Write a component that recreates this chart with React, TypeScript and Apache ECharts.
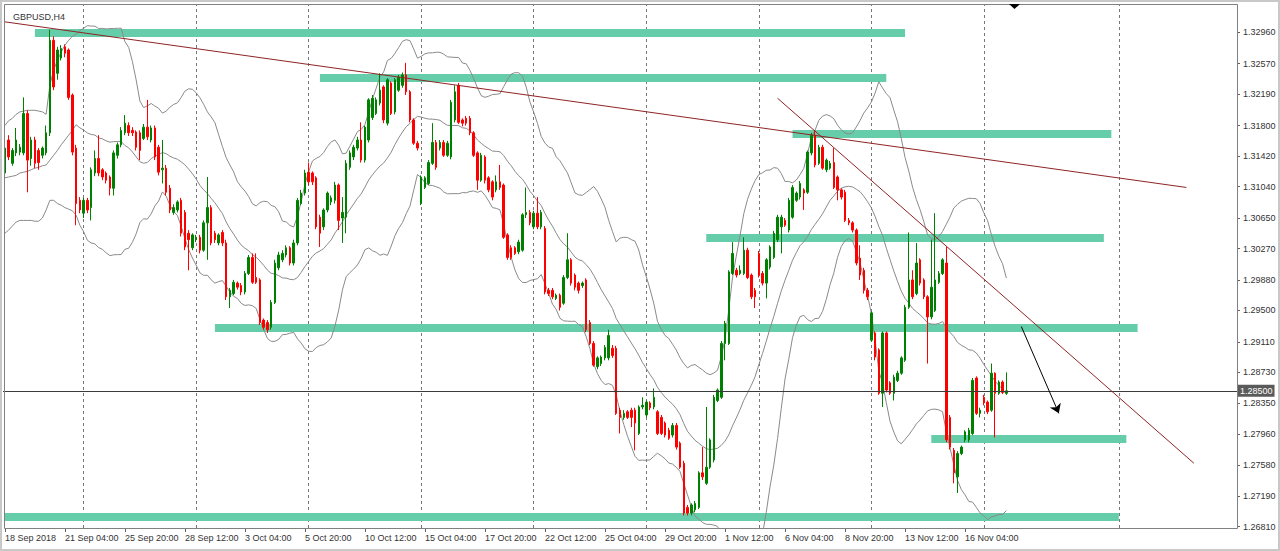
import React, { useEffect, useRef } from "react";
import * as echarts from "echarts";

// ---------- DATA ----------
const chartTitle = "GBPUSD,H4";

// Bottom axis labels, one every 16 bars (H4 bars)
const timeLabels = [
  "18 Sep 2018", "21 Sep 04:00", "25 Sep 20:00", "28 Sep 12:00", "3 Oct 04:00",
  "5 Oct 20:00", "10 Oct 12:00", "15 Oct 04:00", "17 Oct 20:00", "22 Oct 12:00",
  "25 Oct 04:00", "29 Oct 20:00", "1 Nov 12:00", "6 Nov 04:00", "8 Nov 20:00",
  "13 Nov 12:00", "16 Nov 04:00",
];
const LABEL_STEP = 16;

// Right axis price labels
const priceTicks = [
  1.2681, 1.2719, 1.2758, 1.2796, 1.2835, 1.2873, 1.2911, 1.295, 1.2988,
  1.3027, 1.3065, 1.3104, 1.3142, 1.318, 1.3219, 1.3257, 1.3296,
];

const currentPrice = 1.285;
const priceMin = 1.26794;
const priceMax = 1.33312;
const totalSlots = 329; // bars + right-side chart shift space

// [open, close, low, high]
const ohlc: number[][] = [
  [1.3121,1.3152,1.3117,1.3156],[1.3162,1.3141,1.3137,1.3168],[1.3133,1.3149,1.3130,1.3152],[1.3146,1.3162,1.3142,1.3177],
  [1.3147,1.3153,1.3143,1.3157],[1.3146,1.3195,1.3143,1.3215],[1.3195,1.3137,1.3097,1.3199],[1.3139,1.3162,1.3130,1.3166],
  [1.3162,1.3133,1.3127,1.3166],[1.3149,1.3134,1.3125,1.3152],[1.3143,1.3152,1.3139,1.3154],[1.3146,1.3171,1.3143,1.3180],
  [1.3171,1.3286,1.3167,1.3299],[1.3286,1.3228,1.3224,1.3291],[1.3245,1.3274,1.3237,1.3278],[1.3264,1.3276,1.3261,1.3280],
  [1.3278,1.3270,1.3265,1.3281],[1.3274,1.3215,1.3212,1.3276],[1.3218,1.3147,1.3143,1.3220],[1.3152,1.3083,1.3056,1.3156],
  [1.3087,1.3075,1.3071,1.3091],[1.3071,1.3087,1.3065,1.3090],[1.3087,1.3075,1.3071,1.3090],[1.3078,1.3125,1.3062,1.3128],
  [1.3121,1.3139,1.3117,1.3149],[1.3139,1.3121,1.3117,1.3168],[1.3125,1.3116,1.3112,1.3127],[1.3121,1.3112,1.3108,1.3123],
  [1.3116,1.3102,1.3093,1.3118],[1.3102,1.3146,1.3093,1.3149],[1.3143,1.3156,1.3139,1.3159],[1.3156,1.3174,1.3153,1.3178],
  [1.3171,1.3183,1.3168,1.3193],[1.3180,1.3171,1.3167,1.3184],[1.3174,1.3171,1.3167,1.3178],[1.3172,1.3153,1.3149,1.3174],
  [1.3171,1.3149,1.3137,1.3174],[1.3164,1.3178,1.3162,1.3182],[1.3178,1.3166,1.3162,1.3212],[1.3162,1.3177,1.3159,1.3180],
  [1.3177,1.3141,1.3137,1.3180],[1.3153,1.3122,1.3118,1.3156],[1.3125,1.3127,1.3108,1.3162],[1.3127,1.3097,1.3093,1.3131],
  [1.3102,1.3075,1.3071,1.3106],[1.3072,1.3078,1.3069,1.3082],[1.3075,1.3085,1.3072,1.3087],[1.3087,1.3046,1.3042,1.3090],
  [1.3072,1.3029,1.3025,1.3075],[1.3046,1.3038,1.3000,1.3050],[1.3028,1.3044,1.3025,1.3046],[1.3038,1.3041,1.3035,1.3044],
  [1.3041,1.3025,1.3021,1.3044],[1.3025,1.3059,1.3023,1.3062],[1.3059,1.3078,1.3013,1.3116],[1.3078,1.3034,1.3031,1.3081],
  [1.3046,1.3038,1.3034,1.3049],[1.3034,1.3044,1.3031,1.3046],[1.3047,1.3034,1.3030,1.3050],[1.3034,1.2967,1.2963,1.3038],
  [1.2967,1.2975,1.2953,1.2978],[1.2971,1.2985,1.2969,1.2988],[1.2984,1.2979,1.2976,1.2986],[1.2981,1.2973,1.2969,1.2984],
  [1.2973,1.2996,1.2970,1.2999],[1.2996,1.3016,1.2994,1.3019],[1.3016,1.2985,1.2983,1.3021],[1.2991,1.2985,1.2983,1.3021],
  [1.2988,1.2935,1.2932,1.2990],[1.2938,1.2929,1.2926,1.2940],[1.2935,1.2926,1.2922,1.2938],[1.2929,1.2960,1.2926,1.2963],
  [1.2960,1.3009,1.2958,1.3013],[1.3003,1.3019,1.3000,1.3023],[1.3013,1.3021,1.3010,1.3025],[1.3019,1.3028,1.3016,1.3031],
  [1.3028,1.3009,1.3006,1.3030],[1.3009,1.3034,1.3006,1.3038],[1.3034,1.3087,1.3031,1.3090],[1.3083,1.3096,1.3081,1.3100],
  [1.3096,1.3121,1.3093,1.3125],[1.3122,1.3110,1.3106,1.3134],[1.3121,1.3110,1.3106,1.3123],[1.3115,1.3054,1.3051,1.3117],
  [1.3066,1.3046,1.3029,1.3069],[1.3054,1.3075,1.3050,1.3077],[1.3075,1.3096,1.3072,1.3098],[1.3085,1.3090,1.3081,1.3093],
  [1.3087,1.3106,1.3083,1.3110],[1.3106,1.3062,1.3050,1.3108],[1.3065,1.3072,1.3034,1.3091],[1.3066,1.3133,1.3046,1.3137],
  [1.3128,1.3146,1.3125,1.3149],[1.3141,1.3153,1.3137,1.3156],[1.3152,1.3162,1.3149,1.3166],[1.3162,1.3137,1.3134,1.3184],
  [1.3137,1.3178,1.3134,1.3180],[1.3162,1.3212,1.3159,1.3214],[1.3190,1.3214,1.3187,1.3218],[1.3195,1.3212,1.3193,1.3215],
  [1.3208,1.3224,1.3205,1.3245],[1.3228,1.3187,1.3183,1.3230],[1.3183,1.3237,1.3180,1.3239],[1.3233,1.3195,1.3193,1.3235],
  [1.3197,1.3237,1.3194,1.3239],[1.3224,1.3240,1.3222,1.3243],[1.3230,1.3243,1.3227,1.3246],[1.3243,1.3222,1.3218,1.3258],
  [1.3222,1.3187,1.3184,1.3224],[1.3187,1.3158,1.3156,1.3189],[1.3158,1.3152,1.3149,1.3161],[1.3083,1.3116,1.3081,1.3118],
  [1.3103,1.3115,1.3101,1.3117],[1.3108,1.3134,1.3106,1.3137],[1.3133,1.3159,1.3131,1.3183],[1.3159,1.3128,1.3125,1.3162],
  [1.3152,1.3159,1.3149,1.3162],[1.3159,1.3143,1.3141,1.3162],[1.3143,1.3158,1.3141,1.3161],[1.3141,1.3209,1.3138,1.3212],
  [1.3187,1.3222,1.3184,1.3230],[1.3230,1.3184,1.3182,1.3233],[1.3187,1.3183,1.3179,1.3189],[1.3189,1.3183,1.3180,1.3192],
  [1.3189,1.3171,1.3168,1.3192],[1.3171,1.3143,1.3141,1.3173],[1.3146,1.3112,1.3100,1.3148],[1.3112,1.3143,1.3110,1.3146],
  [1.3141,1.3112,1.3108,1.3143],[1.3115,1.3100,1.3097,1.3117],[1.3110,1.3091,1.3087,1.3112],[1.3100,1.3110,1.3097,1.3118],
  [1.3110,1.3103,1.3100,1.3131],[1.3106,1.3041,1.3039,1.3108],[1.3044,1.3016,1.3013,1.3046],[1.3028,1.3016,1.3013,1.3031],
  [1.3028,1.3021,1.3019,1.3030],[1.3023,1.3035,1.3020,1.3038],[1.3025,1.3069,1.3023,1.3071],[1.3069,1.3072,1.3065,1.3103],
  [1.3072,1.3059,1.3056,1.3075],[1.3054,1.3071,1.3051,1.3074],[1.3071,1.3054,1.3051,1.3091],[1.3054,1.3072,1.3051,1.3075],
  [1.3052,1.2973,1.2970,1.3055],[1.2975,1.2971,1.2968,1.2978],[1.2975,1.2967,1.2964,1.2978],[1.2965,1.2969,1.2963,1.2971],
  [1.2969,1.2954,1.2950,1.2971],[1.2959,1.2991,1.2957,1.2994],[1.2991,1.3013,1.2989,1.3046],[1.3013,1.2984,1.2981,1.3015],
  [1.2994,1.2979,1.2975,1.2996],[1.2984,1.2975,1.2971,1.2986],[1.2981,1.2984,1.2978,1.2986],[1.2988,1.2926,1.2923,1.2990],
  [1.2935,1.2909,1.2907,1.2938],[1.2909,1.2882,1.2880,1.2912],[1.2880,1.2891,1.2877,1.2893],[1.2884,1.2892,1.2881,1.2894],
  [1.2891,1.2904,1.2888,1.2907],[1.2891,1.2919,1.2888,1.2926],[1.2903,1.2894,1.2891,1.2907],[1.2903,1.2822,1.2820,1.2906],
  [1.2826,1.2817,1.2797,1.2829],[1.2817,1.2822,1.2814,1.2826],[1.2824,1.2817,1.2815,1.2826],[1.2826,1.2817,1.2805,1.2829],
  [1.2826,1.2810,1.2776,1.2829],[1.2797,1.2830,1.2795,1.2832],[1.2830,1.2832,1.2827,1.2842],[1.2820,1.2836,1.2817,1.2838],
  [1.2835,1.2829,1.2826,1.2837],[1.2830,1.2842,1.2827,1.2853],[1.2824,1.2797,1.2795,1.2826],[1.2817,1.2797,1.2795,1.2820],
  [1.2810,1.2795,1.2792,1.2812],[1.2801,1.2791,1.2789,1.2804],[1.2795,1.2807,1.2792,1.2810],[1.2807,1.2780,1.2777,1.2810],
  [1.2785,1.2755,1.2753,1.2787],[1.2760,1.2698,1.2695,1.2763],[1.2705,1.2698,1.2695,1.2708],[1.2698,1.2708,1.2695,1.2710],
  [1.2702,1.2710,1.2699,1.2713],[1.2705,1.2748,1.2703,1.2750],[1.2748,1.2743,1.2739,1.2780],[1.2735,1.2755,1.2733,1.2830],
  [1.2755,1.2789,1.2753,1.2791],[1.2764,1.2842,1.2761,1.2845],[1.2838,1.2851,1.2836,1.2853],[1.2842,1.2909,1.2840,1.2912],
  [1.2909,1.2934,1.2888,1.2937],[1.2909,1.2998,1.2907,1.3000],[1.2996,1.3021,1.2994,1.3035],[1.3000,1.2994,1.2991,1.3003],
  [1.2996,1.3000,1.2994,1.3006],[1.2996,1.3025,1.2994,1.3041],[1.3025,1.2991,1.2989,1.3028],[1.2994,1.2967,1.2964,1.2996],
  [1.2975,1.2967,1.2953,1.2978],[1.3021,1.2994,1.2991,1.3024],[1.2996,1.2984,1.2981,1.2999],[1.2984,1.3013,1.2965,1.3015],
  [1.3004,1.3029,1.3001,1.3031],[1.3016,1.3046,1.3014,1.3049],[1.3038,1.3066,1.3035,1.3069],[1.3054,1.3066,1.3021,1.3069],
  [1.3062,1.3056,1.3054,1.3065],[1.3050,1.3087,1.3047,1.3090],[1.3066,1.3103,1.3064,1.3106],[1.3087,1.3096,1.3085,1.3098],
  [1.3091,1.3108,1.3088,1.3111],[1.3100,1.3096,1.3075,1.3102],[1.3097,1.3147,1.3095,1.3149],[1.3146,1.3168,1.3143,1.3171],
  [1.3168,1.3131,1.3128,1.3174],[1.3133,1.3153,1.3131,1.3156],[1.3153,1.3127,1.3125,1.3156],[1.3125,1.3137,1.3122,1.3139],
  [1.3127,1.3133,1.3125,1.3136],[1.3134,1.3103,1.3101,1.3152],[1.3116,1.3100,1.3087,1.3118],[1.3100,1.3091,1.3088,1.3102],
  [1.3097,1.3062,1.3060,1.3100],[1.3062,1.3059,1.3056,1.3065],[1.3059,1.3050,1.3047,1.3061],[1.3050,1.3009,1.3006,1.3052],
  [1.3015,1.2994,1.2988,1.3031],[1.3000,1.2975,1.2971,1.3003],[1.2975,1.2967,1.2963,1.2978],[1.2913,1.2947,1.2911,1.2949],
  [1.2922,1.2892,1.2888,1.2924],[1.2901,1.2847,1.2845,1.2903],[1.2847,1.2922,1.2830,1.2924],[1.2922,1.2851,1.2848,1.2924],
  [1.2860,1.2847,1.2845,1.2862],[1.2847,1.2867,1.2838,1.2870],[1.2863,1.2872,1.2861,1.2875],[1.2872,1.2891,1.2870,1.2893],
  [1.2888,1.2954,1.2886,1.2957],[1.2954,1.2988,1.2952,1.3047],[1.2988,1.2967,1.2964,1.3000],[1.2971,1.3009,1.2969,1.3034],
  [1.3013,1.2984,1.2981,1.3015],[1.2988,1.2967,1.2964,1.2990],[1.2967,1.2942,1.2884,1.2969],[1.2942,1.2979,1.2939,1.3038],
  [1.2950,1.2988,1.2948,1.3071],[1.2985,1.2996,1.2983,1.2999],[1.2996,1.3013,1.2994,1.3015],[1.3009,1.2789,1.2786,1.3029],
  [1.2817,1.2780,1.2777,1.2820],[1.2776,1.2748,1.2735,1.2779],[1.2743,1.2772,1.2723,1.2775],[1.2772,1.2780,1.2770,1.2782],
  [1.2789,1.2799,1.2786,1.2801],[1.2789,1.2801,1.2786,1.2804],[1.2797,1.2863,1.2795,1.2866],[1.2866,1.2822,1.2820,1.2868],
  [1.2822,1.2826,1.2817,1.2829],[1.2842,1.2835,1.2832,1.2845],[1.2836,1.2824,1.2821,1.2838],[1.2826,1.2872,1.2824,1.2884],
  [1.2872,1.2847,1.2792,1.2873],[1.2847,1.2861,1.2845,1.2863],[1.2861,1.2848,1.2846,1.2863],[1.2847,1.2850,1.2845,1.2873],
];

// Bollinger band values on the first 19 bars (window reaches before the visible data)
const bbHeadUpper = [1.318,1.3186,1.3189,1.3194,1.3197,1.3198,1.3199,1.3199,1.3199,1.3198,1.3197,1.3194,1.323,1.3249,1.3261,1.3271,1.328,1.3286,1.3291];
const bbHeadMid = [1.3115,1.3116,1.3117,1.3118,1.3121,1.3122,1.3123,1.3125,1.3127,1.3128,1.313,1.3131,1.3137,1.3143,1.3149,1.3156,1.3162,1.3168,1.3174];
const bbHeadLower = [1.3046,1.305,1.3055,1.306,1.3062,1.3062,1.3062,1.3062,1.3061,1.3061,1.3065,1.3075,1.3087,1.3087,1.3083,1.3081,1.3078,1.3076,1.3074];
const bbPeriod = 20;
const bbDeviations = 2;

// Weekly period separators (bar index of the first bar of each week)
const weekSeparators = [21, 51, 81, 111, 141, 171, 201, 231, 261, 297];

// Horizontal support / resistance levels
const levelPrices = [1.3296, 1.3239, 1.317, 1.304, 1.2928, 1.2791, 1.2693];
const levelFrom = [8, 84, 210, 187, 56, 247, 0];
const levelTo = [240, 235, 295, 293, 302, 299, 297];

// Trend lines: [barFrom, priceFrom, barTo, priceTo]
const trendLines = [
  [0, 1.3309, 315, 1.3103],
  [206, 1.3214, 317, 1.276],
];
// Projection arrow
const arrowLine = [271, 1.293, 281, 1.2822];

// ---------- CHART ----------
function buildBands() {
  const closes = ohlc.map((d) => d[1]);
  const upper: number[] = [];
  const mid: number[] = [];
  const lower: number[] = [];
  for (let i = 0; i < closes.length; i++) {
    if (i < bbPeriod - 1) {
      upper.push(bbHeadUpper[i]);
      mid.push(bbHeadMid[i]);
      lower.push(bbHeadLower[i]);
      continue;
    }
    const w = closes.slice(i - bbPeriod + 1, i + 1);
    const m = w.reduce((a, b) => a + b, 0) / bbPeriod;
    const sd = Math.sqrt(w.reduce((a, b) => a + (b - m) * (b - m), 0) / bbPeriod);
    upper.push(m + bbDeviations * sd);
    mid.push(m);
    lower.push(m - bbDeviations * sd);
  }
  return { upper, mid, lower };
}

export default function App() {
  const ref = useRef<HTMLDivElement>(null);

  useEffect(() => {
    if (!ref.current) return;
    const chart = echarts.init(ref.current, null, { renderer: "svg" });
    const cats = Array.from({ length: totalSlots }, (_, i) => String(i));
    const bands = buildBands();
    const font = "Liberation Sans";
    const labelTick = (idx: number) => idx % LABEL_STEP === 0 && idx / LABEL_STEP < timeLabels.length;

    const bandSeries = (data: number[], extra: any = {}) => ({
      type: "line",
      data,
      showSymbol: false,
      silent: true,
      z: 3,
      lineStyle: { color: "#8a8a8a", width: 1 },
      ...extra,
    });

    chart.setOption({
      animation: false,
      backgroundColor: "#ffffff",
      textStyle: { fontFamily: font },
      title: {
        text: chartTitle,
        left: 8,
        top: 7,
        textStyle: { fontSize: 9, fontWeight: "normal", color: "#333", fontFamily: font },
      },
      grid: { left: 3, top: 4, width: 1234, height: 524, show: false },
      xAxis: {
        type: "category",
        data: cats,
        boundaryGap: true,
        axisLine: { show: false },
        axisTick: {
          show: true,
          interval: (i: number) => labelTick(i),
          alignWithLabel: true,
          length: 4,
          lineStyle: { color: "#606060" },
        },
        axisLabel: {
          interval: (i: number) => labelTick(i),
          formatter: (v: string) => timeLabels[Math.round(parseInt(v, 10) / LABEL_STEP)] || "",
          align: "left",
          fontSize: 9,
          color: "#333",
          margin: 5,
          fontFamily: font,
        },
        splitLine: { show: false },
      },
      yAxis: {
        type: "value",
        position: "right",
        min: priceMin,
        max: priceMax,
        axisLine: { show: false },
        axisTick: { show: true, customValues: priceTicks, length: 3, lineStyle: { color: "#606060" } },
        axisLabel: {
          customValues: priceTicks,
          formatter: (v: number) => v.toFixed(5),
          fontSize: 9,
          color: "#333",
          margin: 6,
          fontFamily: font,
        },
        splitLine: { show: false },
      },
      graphic: [
        {
          type: "rect",
          shape: { x: 1, y: 1, width: 1278, height: 549 },
          style: { fill: "none", stroke: "#c8c8c8", lineWidth: 2 },
          silent: true,
          z: 0,
        },
        {
          type: "rect",
          shape: { x: 4.5, y: 4.5, width: 1233, height: 524 },
          style: { fill: "none", stroke: "#808080", lineWidth: 1 },
          silent: true,
          z: 10,
        },
        {
          type: "polygon",
          shape: { points: [[1009, 4], [1020, 4], [1014.5, 9]] },
          style: { fill: "#000" },
          silent: true,
          z: 11,
        },
      ],
      series: [
        {
          type: "lines",
          coordinateSystem: "cartesian2d",
          silent: true,
          z: 1,
          symbol: ["none", "none"],
          lineStyle: { color: "#777", width: 1, type: [3, 3], opacity: 1 },
          data: weekSeparators.map((b) => ({ coords: [[b, priceMin], [b, priceMax]] })),
        },
        {
          type: "lines",
          coordinateSystem: "cartesian2d",
          silent: true,
          z: 2,
          symbol: ["none", "none"],
          lineStyle: { color: "#66cdaa", width: 8, opacity: 1, cap: "butt" },
          data: levelPrices.map((p, k) => ({ coords: [[levelFrom[k], p], [levelTo[k], p]] })),
        },
        bandSeries(bands.upper),
        bandSeries(bands.mid, {
          markLine: {
            silent: true,
            precision: 5,
            symbol: ["none", "none"],
            data: [{ yAxis: currentPrice }],
            lineStyle: { color: "#3a3a3a", width: 1, type: "solid" },
            label: {
              show: true,
              position: "end",
              formatter: currentPrice.toFixed(5),
              color: "#ffffff",
              backgroundColor: "#5a5a5a",
              padding: [2, 2, 1, 2],
              fontSize: 9,
              distance: 1,
              fontFamily: font,
            },
          },
        }),
        bandSeries(bands.lower),
        {
          type: "candlestick",
          data: ohlc,
          barWidth: 2,
          z: 4,
          silent: true,
          itemStyle: {
            color: "#008000",
            color0: "#ff0000",
            borderColor: "#008000",
            borderColor0: "#ff0000",
            borderWidth: 1,
          },
        },
        {
          type: "lines",
          coordinateSystem: "cartesian2d",
          silent: true,
          z: 5,
          symbol: ["none", "none"],
          lineStyle: { color: "#8e2424", width: 1, opacity: 1 },
          data: trendLines.map((t) => ({ coords: [[t[0], t[1]], [t[2], t[3]]] })),
        },
        {
          type: "lines",
          coordinateSystem: "cartesian2d",
          silent: true,
          z: 5,
          symbol: ["none", "arrow"],
          symbolSize: 9,
          itemStyle: { color: "#000" },
          lineStyle: { color: "#000", width: 1, opacity: 1 },
          data: [{ coords: [[arrowLine[0], arrowLine[1]], [arrowLine[2], arrowLine[3]]] }],
        },
      ],
    });

    return () => chart.dispose();
  }, []);

  return (
    <div
      ref={ref}
      style={{ position: "absolute", left: 0, top: 0, width: 1280, height: 551, background: "#fff" }}
    />
  );
}
